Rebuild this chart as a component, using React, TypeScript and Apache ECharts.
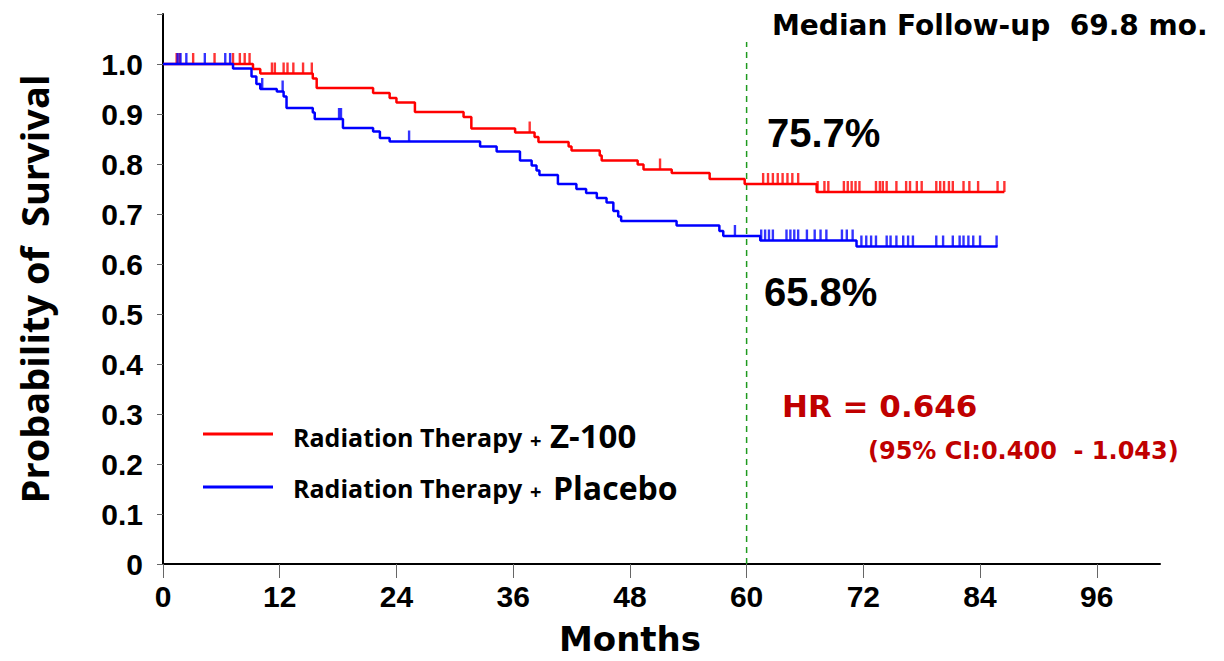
import React, { useEffect, useRef } from 'react';
import * as echarts from 'echarts';

// Kaplan-Meier step data (months, survival probability)
const z100Times = [0, 9.25, 10.0, 15.4, 15.8, 21.6, 23.3, 24.0, 25.9, 30.9, 31.7, 36.2, 38.2, 38.6, 41.7, 42.0, 44.9, 45.1, 48.8, 49.4, 52.3, 56.2, 59.8, 67.2, 86.5];
const z100Surv = [1.0, 0.99, 0.981, 0.971, 0.952, 0.942, 0.932, 0.923, 0.904, 0.894, 0.871, 0.863, 0.854, 0.844, 0.835, 0.827, 0.817, 0.807, 0.799, 0.789, 0.782, 0.770, 0.760, 0.744, 0.744];
const z100Censored = [1.4, 1.7, 3.1, 5.3, 7.2, 7.9, 8.4, 8.9, 11.2, 11.5, 12.4, 12.8, 13.4, 14.4, 15.3, 37.7, 51.1, 61.7, 62.2, 62.7, 63.2, 63.7, 64.2, 64.7, 65.3, 67.3, 68.0, 68.4, 70.0, 70.4, 70.8, 71.2, 71.6, 73.3, 73.7, 74.0, 74.4, 75.4, 76.4, 76.8, 77.5, 78.0, 79.5, 79.9, 80.3, 80.8, 81.2, 82.3, 82.9, 83.8, 85.8, 86.5];

const placeboTimes = [0, 7.2, 9.1, 9.6, 10.0, 11.7, 12.4, 12.7, 15.4, 15.6, 18.5, 21.6, 22.3, 23.3, 32.6, 34.3, 36.7, 37.9, 38.4, 38.7, 40.6, 42.5, 43.5, 44.6, 45.6, 46.3, 46.8, 47.1, 52.8, 57.2, 57.6, 61.4, 71.3, 85.8];
const placeboSurv = [1.0, 0.991, 0.975, 0.96, 0.95, 0.945, 0.935, 0.912, 0.903, 0.89, 0.872, 0.865, 0.852, 0.845, 0.835, 0.825, 0.807, 0.797, 0.787, 0.778, 0.76, 0.75, 0.742, 0.732, 0.723, 0.706, 0.695, 0.686, 0.677, 0.666, 0.656, 0.647, 0.635, 0.635];
const placeboCensored = [1.5, 1.8, 2.4, 4.3, 6.4, 6.9, 10.2, 12.3, 18.1, 18.3, 25.3, 58.8, 61.5, 61.9, 62.3, 62.7, 64.1, 64.5, 64.9, 65.3, 66.2, 67.0, 67.6, 68.2, 69.8, 70.3, 70.9, 71.8, 72.3, 72.8, 73.3, 74.4, 74.8, 75.4, 76.1, 76.6, 77.1, 79.5, 80.2, 81.2, 81.9, 82.3, 82.8, 83.3, 84.0, 85.7];

const xTickValues = [0, 12, 24, 36, 48, 60, 72, 84, 96];
const yTickValues = [0, 0.1, 0.2, 0.3, 0.4, 0.5, 0.6, 0.7, 0.8, 0.9, 1.0, 1.1];
const yLabelValues = [0, 0.1, 0.2, 0.3, 0.4, 0.5, 0.6, 0.7, 0.8, 0.9, 1.0];

const landmarkMonth = 60;
const landmarkTop = 1.044;

const ARIAL = "'Liberation Sans', Arial, sans-serif";
const VERDANA = "'DejaVu Sans', Verdana, sans-serif";
const CALIBRI = "'Open Sans', 'Noto Sans', sans-serif";

function stepAt(times: number[], surv: number[], t: number) {
  let v = surv[0];
  for (let i = 0; i < times.length; i++) {
    if (times[i] <= t) v = surv[i];
  }
  return v;
}

export default function App() {
  const ref = useRef<HTMLDivElement>(null);
  useEffect(() => {
    const chart = echarts.init(ref.current!, null, { renderer: 'svg' });
    const censorStyle = (color: string) => ({
      type: 'scatter',
      symbol: 'rect',
      symbolSize: [2.4, 11],
      symbolOffset: [0, -5.5],
      itemStyle: { color },
      silent: true,
    });
    chart.setOption({
      animation: false,
      backgroundColor: '#ffffff',
      grid: { left: 163, right: 64, top: 14, bottom: 95 },
      xAxis: {
        type: 'value',
        min: 0,
        max: 102.5,
        interval: 12,
        splitLine: { show: false },
        axisLine: { lineStyle: { color: '#000', width: 2 } },
        axisTick: { show: true, length: 14, customValues: xTickValues, lineStyle: { color: '#666', width: 1 } },
        axisLabel: {
          customValues: xTickValues,
          fontFamily: ARIAL,
          fontWeight: 'bold',
          fontSize: 30,
          color: '#000',
          margin: 17,
        },
        name: 'Months',
        nameLocation: 'middle',
        nameGap: 58,
        nameTextStyle: {
          fontFamily: VERDANA,
          fontWeight: 'bold',
          fontSize: 34,
          color: '#000',
          padding: [0, 63, 0, 0],
        },
      },
      yAxis: {
        type: 'value',
        min: 0,
        max: 1.1,
        interval: 0.1,
        splitLine: { show: false },
        axisLine: { lineStyle: { color: '#000', width: 2 } },
        axisTick: { show: true, length: 6, customValues: yTickValues, lineStyle: { color: '#666', width: 1 } },
        axisLabel: {
          customValues: yLabelValues,
          formatter: (v: number) => (v === 0 ? '0' : v.toFixed(1)),
          fontFamily: ARIAL,
          fontWeight: 'bold',
          fontSize: 30,
          color: '#000',
          margin: 20,
        },
        name: 'Probability of  Survival',
        nameLocation: 'middle',
        nameGap: 110,
        nameTextStyle: {
          fontFamily: CALIBRI,
          fontWeight: 'bold',
          fontSize: 38,
          color: '#000',
        },
      },
      series: [
        {
          name: 'Radiation Therapy + Z-100',
          type: 'line',
          step: 'end',
          showSymbol: false,
          data: z100Times.map((t, i) => [t, z100Surv[i]]),
          lineStyle: { color: '#FF0000', width: 2.5 },
          itemStyle: { color: '#FF0000' },
          z: 3,
        },
        {
          ...censorStyle('#FF0000'),
          name: 'Z-100 censored',
          data: z100Censored.map((t) => [t, stepAt(z100Times, z100Surv, t)]),
          z: 3,
        },
        {
          name: 'Radiation Therapy + Placebo',
          type: 'line',
          step: 'end',
          showSymbol: false,
          data: placeboTimes.map((t, i) => [t, placeboSurv[i]]),
          lineStyle: { color: '#0000FF', width: 2.5 },
          itemStyle: { color: '#0000FF' },
          z: 4,
        },
        {
          ...censorStyle('#0000FF'),
          name: 'Placebo censored',
          data: placeboCensored.map((t) => [t, stepAt(placeboTimes, placeboSurv, t)]),
          z: 4,
        },
        {
          name: 'Landmark',
          type: 'line',
          showSymbol: false,
          silent: true,
          data: [[landmarkMonth, 0], [landmarkMonth, landmarkTop]],
          lineStyle: { color: '#1E9A1E', width: 1.5, type: [6, 5] },
          z: 2,
        },
      ],
      graphic: [
        { type: 'text', x: 772, y: 25, style: { text: 'Median Follow-up  69.8 mo.', font: `bold 28px ${VERDANA}`, fill: '#000', verticalAlign: 'middle' } },
        { type: 'text', x: 767, y: 133, style: { text: '75.7%', font: `bold 40px ${ARIAL}`, fill: '#000', verticalAlign: 'middle' } },
        { type: 'text', x: 764, y: 292, style: { text: '65.8%', font: `bold 40px ${ARIAL}`, fill: '#000', verticalAlign: 'middle' } },
        { type: 'text', x: 782, y: 406, style: { text: 'HR = 0.646', font: `bold 31px ${VERDANA}`, fill: '#C00000', verticalAlign: 'middle' } },
        { type: 'text', x: 868, y: 451, style: { text: '(95% CI:0.400  - 1.043)', font: `bold 24px ${VERDANA}`, fill: '#C00000', verticalAlign: 'middle' } },
        { type: 'line', shape: { x1: 203, y1: 434, x2: 273, y2: 434 }, style: { stroke: '#FF0000', lineWidth: 3 } },
        { type: 'text', x: 293, y: 437, style: { text: 'Radiation Therapy', font: `bold 25px ${CALIBRI}`, fill: '#000', verticalAlign: 'middle' } },
        { type: 'text', x: 530, y: 440, style: { text: '+', font: `bold 20px ${CALIBRI}`, fill: '#000', verticalAlign: 'middle' } },
        { type: 'text', x: 550, y: 435, style: { text: 'Z-100', font: `bold 33px ${CALIBRI}`, fill: '#000', verticalAlign: 'middle' } },
        { type: 'line', shape: { x1: 203, y1: 487, x2: 273, y2: 487 }, style: { stroke: '#0000FF', lineWidth: 3 } },
        { type: 'text', x: 293, y: 488, style: { text: 'Radiation Therapy', font: `bold 25px ${CALIBRI}`, fill: '#000', verticalAlign: 'middle' } },
        { type: 'text', x: 530, y: 491, style: { text: '+', font: `bold 20px ${CALIBRI}`, fill: '#000', verticalAlign: 'middle' } },
        { type: 'text', x: 553, y: 487, style: { text: 'Placebo', font: `bold 32px ${CALIBRI}`, fill: '#000', verticalAlign: 'middle' } },
      ],
    });
    return () => chart.dispose();
  }, []);
  return (
    <div
      ref={ref}
      style={{ position: 'fixed', left: 0, top: 0, width: 1224, height: 661, background: '#fff' }}
    />
  );
}
